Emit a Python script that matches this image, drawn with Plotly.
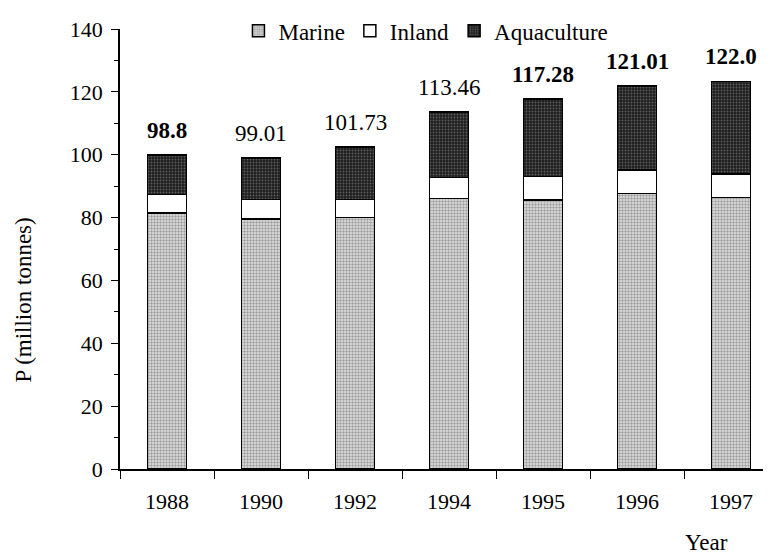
import plotly.graph_objects as go

years = ["1988", "1990", "1992", "1994", "1995", "1996", "1997"]
marine = [81.4, 79.5, 80.0, 86.1, 85.6, 87.7, 86.4]
inland = [6.0, 6.3, 5.8, 6.6, 7.4, 7.4, 7.4]
aquaculture = [12.5, 13.2, 16.6, 20.9, 24.7, 26.8, 29.5]
total_labels = ["98.8", "99.01", "101.73", "113.46", "117.28", "121.01", "122.0"]
label_bold = [True, False, False, False, True, True, True]

FONT = "Liberation Serif, Times New Roman, serif"

fig = go.Figure()
fig.add_trace(go.Bar(
    name="Marine", x=years, y=marine,
    marker=dict(color="#d4d4d4", line=dict(color="black", width=1.5),
                pattern=dict(shape=".", fgcolor="#5a5a5a", bgcolor="#e2e2e2", size=3, solidity=0.5)),
))
fig.add_trace(go.Bar(
    name="Inland", x=years, y=inland,
    marker=dict(color="white", line=dict(color="black", width=1.5)),
))
fig.add_trace(go.Bar(
    name="Aquaculture", x=years, y=aquaculture,
    marker=dict(color="#222222", line=dict(color="black", width=1.5),
                pattern=dict(shape=".", fgcolor="#9a9a9a", bgcolor="#1e1e1e", size=3, solidity=0.3)),
))

tops = [m + i + a for m, i, a in zip(marine, inland, aquaculture)]
for idx, (top, lab, b) in enumerate(zip(tops, total_labels, label_bold)):
    fig.add_annotation(
        x=idx, y=top, text=f"<b>{lab}</b>" if b else lab,
        showarrow=False, yanchor="bottom", yshift=10,
        font=dict(family=FONT, size=23, color="black"),
    )

fig.add_annotation(
    xref="paper", yref="paper", x=-0.168, y=0.385,
    text="P (million tonnes)", textangle=-90, showarrow=False,
    font=dict(family=FONT, size=23, color="black"),
)
fig.add_annotation(
    xref="paper", yref="paper", x=0.927, y=-0.168,
    text="Year", showarrow=False, yanchor="middle",
    font=dict(family=FONT, size=23, color="black"),
)

fig.update_layout(
    barmode="stack", bargap=0.58,
    width=771, height=554,
    margin=dict(l=112, r=1, t=19, b=93),
    plot_bgcolor="white", paper_bgcolor="white",
    font=dict(family=FONT, size=20, color="black"),
    legend=dict(orientation="h", x=0.18, y=1.045, xanchor="left", yanchor="top",
                font=dict(family=FONT, size=23), bgcolor="rgba(0,0,0,0)",
                itemwidth=30, traceorder="normal"),
    xaxis=dict(type="category", range=[-0.5, 6.5], showline=True, linecolor="black", linewidth=1.5,
               ticks="outside", ticklen=8, tickcolor="black", tickson="boundaries",
               ticklabelstandoff=12, showgrid=False, zeroline=False,
               tickfont=dict(family=FONT, size=22)),
    yaxis=dict(range=[0, 140], showline=True, linecolor="black", linewidth=1.5,
               ticks="outside", ticklen=7, tickcolor="black", dtick=20,
               minor=dict(ticks="outside", ticklen=4, dtick=10, tickcolor="black"),
               showgrid=False, zeroline=False, ticklabelstandoff=4,
               tickfont=dict(family=FONT, size=22)),
)

fig.write_html("out.html")
